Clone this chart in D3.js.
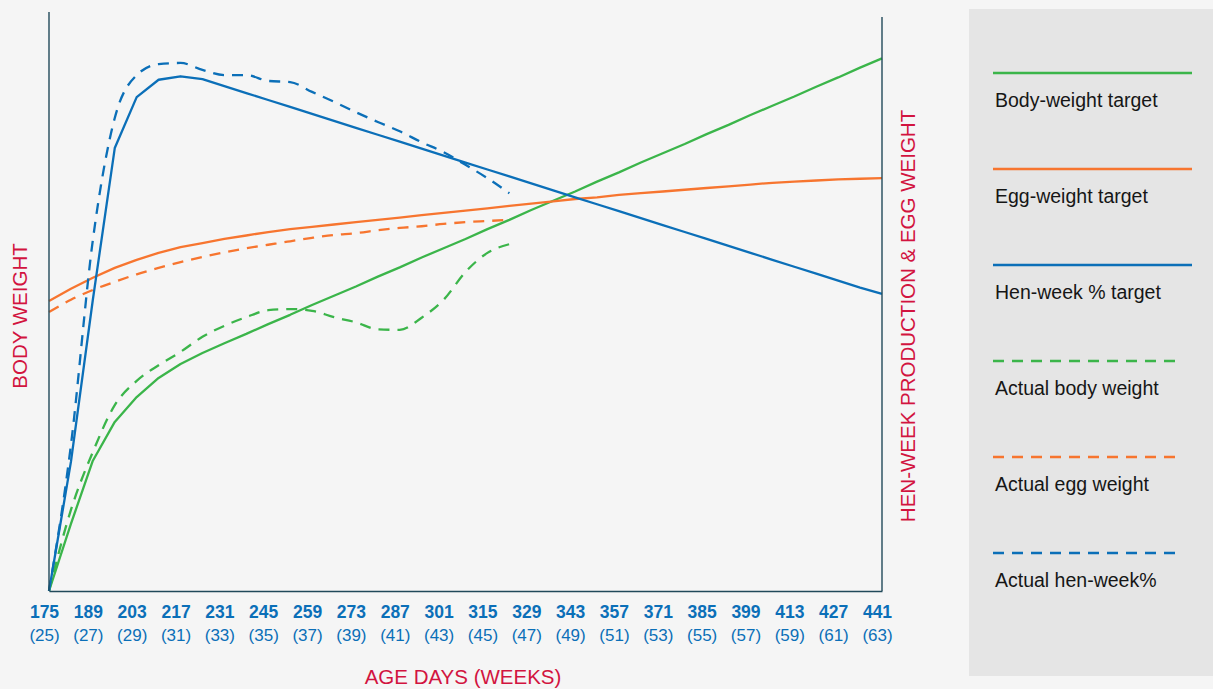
<!DOCTYPE html>
<html>
<head>
<meta charset="utf-8">
<script src="https://cdn.jsdelivr.net/npm/d3@7"></script>
<style>
  body { margin: 0; background: #f5f5f5; }
  svg { display: block; font-family: "Liberation Sans", Arial, sans-serif; }
</style>
</head>
<body>
<svg width="1213" height="689"></svg>
<script>
// weekly ages (days)
var ageDays = [175, 182, 189, 196, 203, 210, 217, 224, 231, 238, 245, 252, 259, 266, 273, 280, 287, 294, 301, 308,
    315, 322, 329, 336, 343, 350, 357, 364, 371, 378, 385, 392, 399, 406, 413, 420, 427, 434, 441];
var tickDays = [175, 189, 203, 217, 231, 245, 259, 273, 287, 301, 315, 329, 343, 357, 371, 385, 399, 413, 427, 441];
var tickWeeks = [25, 27, 29, 31, 33, 35, 37, 39, 41, 43, 45, 47, 49, 51, 53, 55, 57, 59, 61, 63];

// values on a relative 0-100 index (chart has no y ticks)
var bodyWeightTarget = [0, 11.6, 22.5, 29.2, 33.5, 36.8, 39.2, 41.1, 42.8, 44.4, 46.1, 47.7, 49.4, 51.0, 52.6, 54.3,
    55.9, 57.6, 59.2, 60.8, 62.5, 64.1, 65.8, 67.4, 69.0, 70.7, 72.3, 74.0, 75.6, 77.2, 78.9, 80.5, 82.2, 83.8,
    85.4, 87.1, 88.7, 90.4, 92.0];
var eggWeightTarget = [50.1, 52.2, 54.1, 55.8, 57.2, 58.4, 59.4, 60.1, 60.8, 61.4, 62.0, 62.5, 62.9, 63.3, 63.7,
    64.1, 64.5, 64.9, 65.3, 65.7, 66.1, 66.5, 66.9, 67.3, 67.7, 68.0, 68.4, 68.7, 69.0, 69.3, 69.6, 69.9, 70.2,
    70.5, 70.7, 70.9, 71.1, 71.2, 71.3];
var henWeekTarget = [0, 22.3, 50.3, 76.5, 85.3, 88.3, 88.9, 88.4, 87.2, 86.0, 84.8, 83.6, 82.4, 81.2, 80.0, 78.8,
    77.6, 76.4, 75.2, 74.0, 72.8, 71.6, 70.4, 69.2, 68.0, 66.8, 65.6, 64.4, 63.2, 62.0, 60.8, 59.6, 58.4, 57.2,
    56.0, 54.8, 53.6, 52.4, 51.3];
var bodyWeightActual = [0, 14.0, 24.0, 32.1, 36.3, 39.0, 41.3, 43.9, 45.8, 47.3, 48.5, 48.7, 48.4, 47.3, 46.4,
    45.2, 45.1, 47.2, 50.3, 55.1, 58.4, 59.9];
var eggWeightActual = [48.2, 50.3, 52.0, 53.4, 54.7, 55.8, 56.8, 57.7, 58.5, 59.2, 59.8, 60.4, 61.0, 61.5, 61.8,
    62.3, 62.7, 63.0, 63.4, 63.7, 63.9, 64.1];
var henWeekActual = [0, 25.2, 60.6, 81.7, 89.1, 91.0, 91.2, 90.0, 89.1, 89.1, 88.1, 87.9, 86.2, 84.5, 82.7, 81.0,
    79.4, 77.5, 75.8, 73.6, 71.3, 68.7];

var green = "#3bb54a", orange = "#f7752f", blue = "#0b6fb8", red = "#d2143f";

var series = [
    { name: "Body-weight target", values: bodyWeightTarget, color: green, dash: null },
    { name: "Egg-weight target", values: eggWeightTarget, color: orange, dash: null },
    { name: "Hen-week % target", values: henWeekTarget, color: blue, dash: null },
    { name: "Actual body weight", values: bodyWeightActual, color: green, dash: "11,8" },
    { name: "Actual egg weight", values: eggWeightActual, color: orange, dash: "11,8" },
    { name: "Actual hen-week%", values: henWeekActual, color: blue, dash: "11,8" }
];

var svg = d3.select("svg");
var plotLeft = 49, plotRight = 882, plotTop = 12, plotBottom = 591;

var x = d3.scaleLinear().domain([175, 441]).range([plotLeft, plotRight]);
var y = d3.scaleLinear().domain([0, 100]).range([plotBottom, plotTop]);

var line = d3.line()
    .x(function(d) { return x(d.day); })
    .y(function(d) { return y(d.v); });

var plot = svg.append("g");
series.forEach(function(s) {
    var pts = s.values.map(function(v, i) { return { day: ageDays[i], v: v }; });
    plot.append("path")
        .datum(pts)
        .attr("fill", "none")
        .attr("stroke", s.color)
        .attr("stroke-width", 2.3)
        .attr("stroke-linejoin", "round")
        .attr("stroke-dasharray", s.dash)
        .attr("d", line.curve(s.dash ? d3.curveMonotoneX : d3.curveLinear));
});

// axis frame
var axisColor = "#21495a";
svg.append("line").attr("x1", plotLeft).attr("x2", plotLeft).attr("y1", plotTop).attr("y2", plotBottom)
    .attr("stroke", axisColor).attr("stroke-width", 1.4);
svg.append("line").attr("x1", plotRight).attr("x2", plotRight).attr("y1", 17).attr("y2", plotBottom)
    .attr("stroke", axisColor).attr("stroke-width", 1.4);

var xAxis = svg.append("g")
    .attr("transform", "translate(0," + plotBottom + ")")
    .call(d3.axisBottom(x).tickValues(tickDays).tickSize(0).tickPadding(0).tickFormat(function() { return ""; }));
xAxis.select(".domain").attr("stroke", axisColor).attr("stroke-width", 1.4);
xAxis.selectAll(".tick text").remove();
xAxis.selectAll(".tick").each(function(d, i) {
    var g = d3.select(this);
    g.append("text")
        .attr("x", -5).attr("y", 27)
        .attr("text-anchor", "middle")
        .attr("fill", blue)
        .attr("font-size", 17.5)
        .attr("font-weight", "bold")
        .text(d);
    g.append("text")
        .attr("x", -5).attr("y", 50)
        .attr("text-anchor", "middle")
        .attr("fill", blue)
        .attr("font-size", 17)
        .text("(" + tickWeeks[i] + ")");
});

// axis titles
svg.append("text")
    .attr("transform", "translate(27,316) rotate(-90)")
    .attr("text-anchor", "middle")
    .attr("fill", red).attr("font-size", 20.5)
    .text("BODY WEIGHT");
svg.append("text")
    .attr("transform", "translate(915,316) rotate(-90)")
    .attr("text-anchor", "middle")
    .attr("fill", red).attr("font-size", 20.5)
    .text("HEN-WEEK PRODUCTION & EGG WEIGHT");
svg.append("text")
    .attr("x", 463).attr("y", 684)
    .attr("text-anchor", "middle")
    .attr("fill", red).attr("font-size", 20.5)
    .text("AGE DAYS (WEEKS)");

// legend panel
svg.append("rect")
    .attr("x", 969).attr("y", 9).attr("width", 244).attr("height", 667)
    .attr("fill", "#e5e5e5");

var legend = svg.append("g").selectAll("g")
    .data(series)
    .enter().append("g")
    .attr("transform", function(d, i) { return "translate(993," + (73 + i * 96) + ")"; });

legend.append("line")
    .attr("x1", 0)
    .attr("x2", function(d) { return d.dash ? 190 : 199; })
    .attr("y1", 0).attr("y2", 0)
    .attr("stroke", function(d) { return d.color; })
    .attr("stroke-width", 2.5)
    .attr("stroke-dasharray", function(d) { return d.dash; });

legend.append("text")
    .attr("x", 2).attr("y", 34)
    .attr("fill", "#161616")
    .attr("font-size", 19.5)
    .text(function(d) { return d.name; });
</script>
</body>
</html>
